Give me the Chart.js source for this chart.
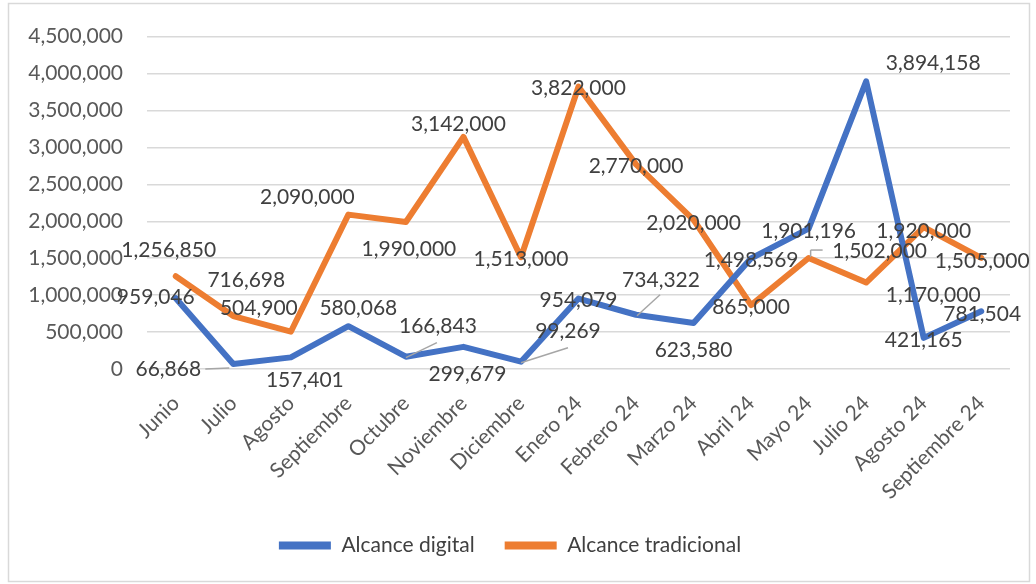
<!DOCTYPE html>
<html>
<head>
<meta charset="utf-8">
<script src="https://cdn.jsdelivr.net/npm/chart.js@4/dist/chart.umd.min.js"></script>
<style>
  html, body { margin: 0; padding: 0; background: #fff; }
</style>
</head>
<body>
<canvas id="chart" width="1036" height="584"></canvas>
<script>
// Alcance mensual: digital vs tradicional

const meses = ['Junio', 'Julio', 'Agosto', 'Septiembre', 'Octubre', 'Noviembre', 'Diciembre',
  'Enero 24', 'Febrero 24', 'Marzo 24', 'Abril 24', 'Mayo 24', 'Julio 24', 'Agosto 24', 'Septiembre 24'];

const alcanceDigital = [959046, 66868, 157401, 580068, 166843, 299679, 99269,
  954079, 734322, 623580, 1498569, 1901196, 3894158, 421165, 781504];

const alcanceTradicional = [1256850, 716698, 504900, 2090000, 1990000, 3142000, 1513000,
  3822000, 2770000, 2020000, 865000, 1502000, 1170000, 1920000, 1505000];

const yMin = 0;
const yMax = 4500000;
const yStep = 500000;

const FONT = 'Lato';
const SIZE = 21;
const fmt = n => Number(n).toLocaleString('en-US');

// desplazamiento de cada etiqueta respecto a su punto (px), como en el original
const LABEL_SHIFT = [
  [[-20, -1], [-65, 5], [14, 23], [10, -18], [32, -30], [4, 27], [47, -30], [0, 2],
   [25, -35], [0, 27], [0, 2], [0, 3], [67, -18], [0, 2], [1, 3]],
  [[-7, -26], [13, -36], [-32, -23], [-41, -17], [3, 27], [-5, -13], [0, 2], [0, 2],
   [0, 2], [0, 3], [0, 2], [71, -7], [67, 13], [0, 4], [1, 3]],
];
// líneas guía: [dataset, índice, x1, y1, x2, y2] relativas al punto
const LEADERS = [
  [0, 1, -28, 5, -4, 4],
  [0, 4, 0, 1, 31, -14],
  [0, 6, 0, 1, 47, -14],
  [0, 8, 1, 1, 24, -20],
  [1, 11, 2, -1, 2, -8],
  [1, 11, 2, -8, 14, -8],
];

const frameAndLabels = {
  id: 'frameAndLabels',
  beforeDraw(chart) {
    const ctx = chart.ctx;
    ctx.save();
    ctx.fillStyle = '#fff';
    ctx.fillRect(0, 0, chart.width, chart.height);
    ctx.strokeStyle = '#d9d9d9';
    ctx.lineWidth = 1.5;
    ctx.strokeRect(8.5, 3.5, 1021, 578);
    ctx.restore();
  },
  afterDatasetsDraw(chart) {
    const ctx = chart.ctx;
    ctx.save();
    ctx.strokeStyle = '#a6a6a6';
    ctx.lineWidth = 1.5;
    LEADERS.forEach(([d, i, x1, y1, x2, y2]) => {
      const p = chart.getDatasetMeta(d).data[i];
      ctx.beginPath();
      ctx.moveTo(p.x + x1, p.y + y1);
      ctx.lineTo(p.x + x2, p.y + y2);
      ctx.stroke();
    });
    ctx.font = `${SIZE}px ${FONT}`;
    ctx.fillStyle = '#404040';
    ctx.textAlign = 'center';
    ctx.textBaseline = 'middle';
    chart.data.datasets.forEach((ds, d) => {
      chart.getDatasetMeta(d).data.forEach((p, i) => {
        const [dx, dy] = LABEL_SHIFT[d][i];
        ctx.fillText(fmt(ds.data[i]), p.x + dx, p.y + dy);
      });
    });
    ctx.restore();
  },
};

const baseLabels = Chart.defaults.plugins.legend.labels.generateLabels;

new Chart(document.getElementById('chart'), {
  type: 'line',
  data: {
    labels: meses,
    datasets: [
      {
        label: 'Alcance digital',
        data: alcanceDigital,
        borderColor: '#4472c4',
        backgroundColor: '#4472c4',
        borderWidth: 6,
        borderJoinStyle: 'round',
        borderCapStyle: 'round',
        pointRadius: 0,
        tension: 0,
      },
      {
        label: 'Alcance tradicional',
        data: alcanceTradicional,
        borderColor: '#ed7d31',
        backgroundColor: '#ed7d31',
        borderWidth: 6,
        borderJoinStyle: 'round',
        borderCapStyle: 'round',
        pointRadius: 0,
        tension: 0,
      },
    ],
  },
  options: {
    responsive: false,
    animation: false,
    layout: { padding: { left: 10, right: 26, top: 33, bottom: 18 } },
    plugins: {
      legend: {
        position: 'bottom',
        labels: {
          usePointStyle: true,
          pointStyle: 'line',
          pointStyleWidth: 52,
          padding: 30,
          color: '#404040',
          font: { family: FONT, size: SIZE },
          generateLabels: chart => baseLabels(chart).map(l => ({ ...l, lineWidth: 8 })),
        },
      },
      tooltip: { enabled: false },
    },
    scales: {
      x: {
        offset: true,
        grid: { display: false },
        border: { display: false },
        ticks: {
          color: '#595959',
          font: { family: FONT, size: SIZE },
          maxRotation: 45,
          minRotation: 45,
          padding: 14,
          autoSkip: false,
        },
        afterFit: s => { s.height = 136; },
      },
      y: {
        min: yMin,
        max: yMax,
        grid: { color: '#d9d9d9', lineWidth: 1.5, drawTicks: false },
        border: { display: false },
        ticks: {
          stepSize: yStep,
          color: '#595959',
          font: { family: FONT, size: SIZE },
          padding: 24,
          callback: v => fmt(v),
        },
        afterFit: s => { s.width = 137; },
      },
    },
  },
  plugins: [frameAndLabels],
});
</script>
</body>
</html>
